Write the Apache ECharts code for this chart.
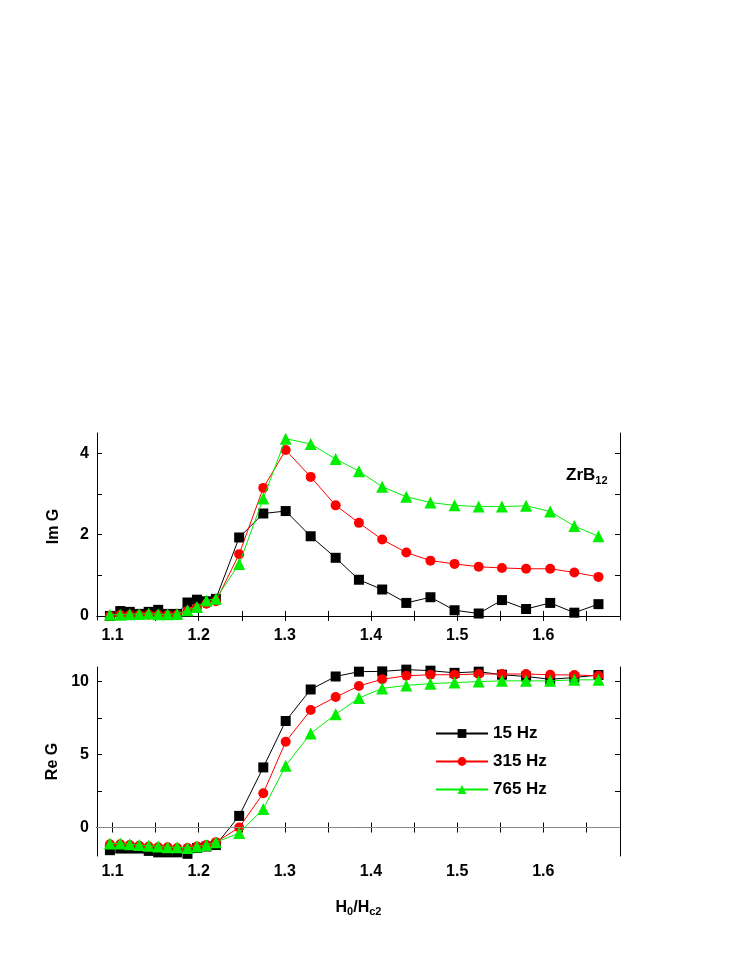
<!DOCTYPE html><html><head><meta charset="utf-8"><script src="https://cdn.jsdelivr.net/npm/echarts@6/dist/echarts.min.js"></script></head><body style="margin:0"><div id="c" style="width:747px;height:967px"></div><script>
var xs=[1.097,1.109,1.12,1.131,1.142,1.153,1.164,1.175,1.187,1.198,1.209,1.22,1.247,1.275,1.301,1.33,1.359,1.386,1.413,1.441,1.469,1.497,1.525,1.552,1.58,1.608,1.636,1.664];
var im15=[0.0,0.12,0.1,0.05,0.1,0.15,0.05,0.05,0.33,0.4,0.36,0.42,1.93,2.52,2.58,1.96,1.43,0.89,0.65,0.32,0.46,0.14,0.06,0.39,0.17,0.32,0.08,0.29];
var im315=[0.0,0.02,0.02,0.02,0.03,0.02,0.02,0.03,0.12,0.2,0.3,0.36,1.52,3.15,4.08,3.42,2.72,2.29,1.88,1.56,1.36,1.28,1.21,1.18,1.16,1.16,1.07,0.96];
var im765=[0.03,0.03,0.04,0.05,0.06,0.04,0.04,0.05,0.14,0.22,0.38,0.42,1.28,2.89,4.36,4.23,3.86,3.56,3.18,2.93,2.79,2.72,2.69,2.69,2.71,2.57,2.21,1.96];
var re15=[-1.55,-1.44,-1.44,-1.44,-1.6,-1.7,-1.7,-1.7,-1.8,-1.4,-1.3,-1.2,0.8,4.12,7.3,9.46,10.35,10.68,10.7,10.82,10.75,10.6,10.68,10.47,10.35,10.16,10.28,10.45];
var re315=[-1.15,-1.15,-1.2,-1.25,-1.3,-1.35,-1.35,-1.4,-1.4,-1.3,-1.2,-1.0,0.0,2.35,5.88,8.05,8.94,9.7,10.16,10.4,10.47,10.47,10.52,10.52,10.52,10.47,10.45,10.4];
var re765=[-1.1,-1.1,-1.15,-1.2,-1.25,-1.3,-1.35,-1.35,-1.4,-1.3,-1.2,-1.0,-0.38,1.27,4.24,6.45,7.76,8.87,9.53,9.74,9.86,9.93,10.0,10.05,10.05,10.05,10.12,10.12];
var names=['15 Hz','315 Hz','765 Hz'];
var xTicks=[1.1,1.2,1.3,1.4,1.5,1.6];
var xMinor=[1.15,1.25,1.35,1.45,1.55,1.65];
var imTicks=[0,2,4], imMinor=[1,3];
var reTicks=[0,5,10], reMinor=[2.5,7.5];
var cols=['#000000','#ff0000','#00ee00'];
var syms=['rect','circle','triangle'];
function pair(y){return xs.map(function(x,i){return [x,y[i]];});}
var F='Arial, Liberation Sans, sans-serif';
var lab={fontFamily:F,fontSize:16,fontWeight:'bold',color:'#000'};
function xa(g,show,pos){return {gridIndex:g,type:'value',min:1.082,max:1.689,position:pos,
 axisLine:{show:true,lineStyle:{color:'#000'}},axisTick:{show:true,inside:true,length:5,customValues:xTicks.concat(xMinor)},
 axisLabel:{show:show,customValues:xTicks,formatter:function(v){return v.toFixed(1);},fontFamily:F,fontSize:16,fontWeight:'bold',color:'#000',margin:8},
 splitLine:{show:false},
 name:(g==1&&show)?'H{s|0}/H{s|c2}':'',nameLocation:'middle',nameGap:42,
 nameTextStyle:{fontFamily:F,fontSize:16,fontWeight:'bold',color:'#000',rich:{s:{fontFamily:F,fontSize:11,fontWeight:'bold',verticalAlign:'bottom',padding:[8,0,0,0]}}}};}
function ya(g,min,max,tk,mn,show,pos,nm){return {gridIndex:g,type:'value',min:min,max:max,position:pos,
 axisLine:{show:true,lineStyle:{color:'#000'}},axisTick:{show:true,inside:true,length:5,customValues:tk.concat(mn)},
 splitLine:{show:false},
 axisLabel:{show:show,customValues:tk,fontFamily:F,fontSize:16,fontWeight:'bold',color:'#000',margin:8},
 name:nm,nameLocation:'middle',nameGap:35,nameTextStyle:lab};}
var series=[];
[[im15,im315,im765],[re15,re315,re765]].forEach(function(set,g){
 set.forEach(function(d,k){series.push({type:'line',name:names[k],xAxisIndex:g*2,yAxisIndex:g*2,data:pair(d),
  symbol:syms[k],symbolSize:k==2?12:10,color:cols[k],lineStyle:{width:1,color:cols[k]},itemStyle:{color:cols[k]},z:3+k,
  markLine:(g==1&&k==0)?{silent:true,symbol:'none',label:{show:false},lineStyle:{color:'#888',type:'solid',width:1},data:[{yAxis:0}]}:undefined});});
});
var c=echarts.init(document.getElementById('c'));
c.setOption({animation:false,backgroundColor:'#fff',
 grid:[{left:97,top:433,width:523,height:187},{left:97,top:667,width:523,height:189}],
 xAxis:[xa(0,true,'bottom'),xa(0,false,'top'),xa(1,true,'bottom'),xa(1,false,'top')],
 yAxis:[ya(0,-0.1,4.5,imTicks,imMinor,true,'left','Im G'),ya(0,-0.1,4.5,imTicks,imMinor,false,'right',''),ya(1,-1.95,11,reTicks,reMinor,true,'left','Re G'),ya(1,-1.95,11,reTicks,reMinor,false,'right','')],
 legend:{data:names,orient:'vertical',left:430,top:720,itemGap:11,itemWidth:52,itemHeight:11,
  textStyle:{fontFamily:F,fontSize:17,fontWeight:'bold',color:'#000'}},
 graphic:[{type:'text',left:566,top:467,style:{text:'ZrB{s|12}',font:'bold 17px '+F,fill:'#000',rich:{s:{font:'bold 11px '+F,fill:'#000',padding:[10,0,0,0]}}}}],
 series:series});
</script></body></html>
